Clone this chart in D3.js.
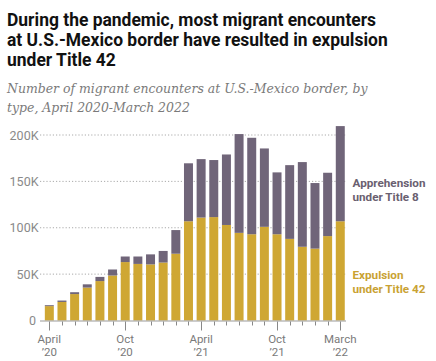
<!DOCTYPE html>
<html><head><meta charset="utf-8">
<script src="https://cdn.jsdelivr.net/npm/d3@7"></script>
<style>body{margin:0;background:#fff;} svg{display:block;}</style>
</head><body>
<svg id="c" width="436" height="361"></svg>
<script>
const months = ["2020-04","2020-05","2020-06","2020-07","2020-08","2020-09","2020-10","2020-11","2020-12","2021-01","2021-02","2021-03","2021-04","2021-05","2021-06","2021-07","2021-08","2021-09","2021-10","2021-11","2021-12","2022-01","2022-02","2022-03"];
const expulsionTitle42 = [15.5,20,28.5,35.5,42.5,48.5,63,61,60.5,62.5,72,107,111,111.5,103,94.5,93,101,93,88,79.5,77.5,91,107];
const apprehensionTitle8 = [1,1.5,2,3.5,4.5,6.5,6,8,10.8,12.5,25.5,62.5,63,61.5,76,106.5,104,84.5,66.7,79.5,91.3,70.7,68.3,102.6];
const yTicks = [0,50,100,150,200];
const yTickLabels = ["0","50K","100K","150K","200K"];
const xLabelMonths = ["2020-04","2020-10","2021-04","2021-10","2022-03"];
const xLabelTop = ["April","Oct","April","Oct","March"];
const xLabelBottom = ["\u201920","\u201920","\u201921","\u201921","\u201922"];
const titleLines = ["During the pandemic, most migrant encounters","at U.S.-Mexico border have resulted in expulsion","under Title 42"];
const subtitleLines = ["Number of migrant encounters at U.S.-Mexico border, by","type, April 2020-March 2022"];

const svg = d3.select("#c");
const gold = "#CFA733", purple = "#706579";
const sans = "Roboto, 'Liberation Sans', sans-serif";

// title
const tl = svg.append("g");
const titleY = [26,46,66];
titleLines.forEach((t,i)=>{
  tl.append("text").attr("x",7).attr("y",titleY[i]).text(t)
   .attr("font-family",sans).attr("font-weight","bold")
   .attr("font-size",17).attr("fill","#111");
});
(function(){
  const nodes = tl.selectAll("text").nodes();
  const w = nodes[1].getComputedTextLength();
  const fs = 17*381/w;
  nodes.forEach(n=>n.setAttribute("font-size",fs));
})();
const st = svg.append("g");
const subY = [93,112];
subtitleLines.forEach((t,i)=>{
  st.append("text").attr("x",7).attr("y",subY[i]).text(t)
   .attr("font-family","'DejaVu Serif', Georgia, serif").attr("font-style","italic")
   .attr("font-size",14).attr("fill","#7a7a7a");
});
(function(){
  const nodes = st.selectAll("text").nodes();
  const w = nodes[0].getComputedTextLength();
  const fs = 14*361/w;
  nodes.forEach(n=>n.setAttribute("font-size",fs));
})();

const x = d3.scaleBand().domain(months).range([42.3,347.3]).paddingInner(0.29).paddingOuter(0.2);
const y = d3.scaleLinear().domain([0,200]).range([320.5,135]);

// gridlines
svg.append("g").selectAll("line").data(yTicks.filter(d=>d>0)).join("line")
  .attr("x1",40).attr("x2",346).attr("y1",d=>y(d)).attr("y2",d=>y(d))
  .attr("stroke","#aaa").attr("stroke-width",1).attr("stroke-dasharray","1.2,2");
// y labels
svg.append("g").selectAll("text").data(yTicks).join("text")
  .attr("x",d=>d===0?36:38.5).attr("y",d=>y(d)+4.5).attr("text-anchor","end")
  .attr("font-family",sans).attr("font-size",12.5)
  .attr("fill","#8a8a8a").text((d,i)=>yTickLabels[i]);

// stacked data
const rows = months.map((m,i)=>({m, t42:expulsionTitle42[i], t8:apprehensionTitle8[i]}));
const stack = d3.stack().keys(["t42","t8"])(rows);
const colors = {t42:gold, t8:purple};
svg.append("g").selectAll("g").data(stack).join("g").attr("fill",s=>colors[s.key])
  .selectAll("rect").data(s=>s).join("rect")
  .attr("x",d=>x(d.data.m)).attr("width",x.bandwidth())
  .attr("y",d=>y(d[1])).attr("height",d=>y(d[0])-y(d[1]));

// baseline axis
svg.append("line").attr("x1",40).attr("x2",346).attr("y1",y(0)+0.5).attr("y2",y(0)+0.5)
  .attr("stroke","#999").attr("stroke-width",1);
// ticks
svg.append("g").selectAll("line").data(months).join("line")
  .attr("x1",d=>Math.round(x(d)+x.bandwidth()/2)+0.5).attr("x2",d=>Math.round(x(d)+x.bandwidth()/2)+0.5)
  .attr("y1",y(0)+1).attr("y2",d=>xLabelMonths.includes(d)?y(0)+10:y(0)+5)
  .attr("stroke","#888").attr("stroke-width",1);
// x labels (two separate rows)
const cx = d=>x(d)+x.bandwidth()/2;
svg.append("g").selectAll("text").data(xLabelMonths).join("text")
  .attr("x",cx).attr("y",342.5).attr("text-anchor","middle")
  .attr("font-family",sans).attr("font-size",11.5).attr("fill","#7a7a7a")
  .text((d,i)=>xLabelTop[i]);
svg.append("g").selectAll("text").data(xLabelMonths).join("text")
  .attr("x",cx).attr("y",356).attr("text-anchor","middle")
  .attr("font-family",sans).attr("font-size",11.5).attr("fill","#7a7a7a")
  .text((d,i)=>xLabelBottom[i]);

// legend labels
const legend = [{lines:["Apprehension","under Title 8"],y:187,c:"#6a6070"},{lines:["Expulsion","under Title 42"],y:279,c:"#C9A233"}];
legend.forEach(l=>{
  l.lines.forEach((t,i)=>{
    svg.append("text").attr("x",352.5).attr("y",l.y+i*14).text(t)
      .attr("font-family",sans).attr("font-weight","bold")
      .attr("font-size",11.7).attr("fill",l.c);
  });
});
</script>
</body></html>
